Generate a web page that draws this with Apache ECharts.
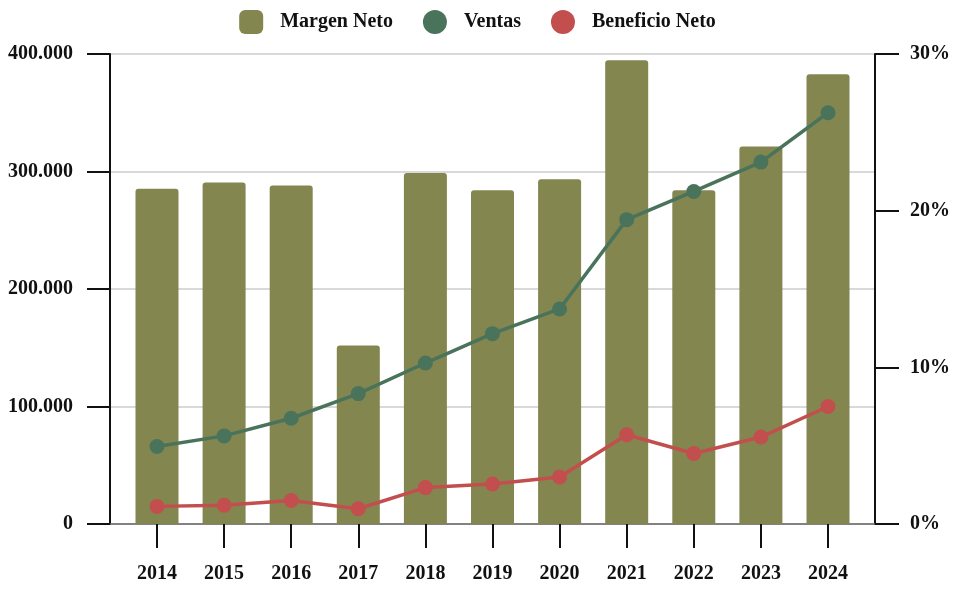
<!DOCTYPE html>
<html>
<head>
<meta charset="utf-8">
<script src="https://cdn.jsdelivr.net/npm/echarts@6/dist/echarts.min.js"></script>
<style>html,body{margin:0;padding:0;background:#fff}#c{width:955px;height:589px}</style>
</head>
<body>
<div id="c"></div>
<script>
var categories = ['2014','2015','2016','2017','2018','2019','2020','2021','2022','2023','2024'];
var margenNeto = [21.4, 21.8, 21.6, 11.4, 22.4, 21.3, 22.0, 29.6, 21.3, 24.1, 28.7];
var ventas = [66000, 75000, 90000, 111000, 137000, 162000, 183000, 259000, 283000, 308000, 350000];
var beneficioNeto = [15000, 16000, 20000, 13000, 31000, 34000, 40000, 76000, 60000, 74000, 100000];

var FONT = 'Liberation Serif';
var txt = {fontFamily: FONT, fontWeight: 'bold', fontSize: 20, color: '#111'};
function fmtThousands(v){ return String(v).replace(/\B(?=(\d{3})+(?!\d))/g, '.'); }

var chart = echarts.init(document.getElementById('c'), null, {renderer: 'canvas'});
chart.setOption({
  animation: false,
  backgroundColor: '#fff',
  legend: {
    top: 5, left: 'center',
    itemWidth: 24, itemHeight: 24, itemGap: 30,
    textStyle: Object.assign({}, txt, {fontSize: 20, padding: [2,0,0,12]}),
    data: [
      {name: 'Margen Neto', icon: 'roundRect'},
      {name: 'Ventas', icon: 'circle'},
      {name: 'Beneficio Neto', icon: 'circle'}
    ]
  },
  grid: [
    {left: 110, right: 80, top: 54, bottom: 65, containLabel: false},
    {left: 123.45, right: 93.45, top: 54, bottom: 65, containLabel: false}
  ],
  xAxis: [
    {type: 'category', gridIndex: 0, data: categories,
     axisLine: {show: true, lineStyle: {color: '#666', width: 1.5}},
     axisTick: {show: false}, axisLabel: {show: false}, splitLine: {show: false}},
    {type: 'category', gridIndex: 1, data: categories,
     axisLine: {show: false},
     axisTick: {show: true, alignWithLabel: true, length: 24, lineStyle: {color: '#111', width: 2}},
     axisLabel: Object.assign({}, txt, {margin: 40}), splitLine: {show: false}}
  ],
  yAxis: [
    {type: 'value', gridIndex: 0, position: 'left', min: 0, max: 400000, interval: 100000,
     axisLine: {show: true, lineStyle: {color: '#111', width: 2}},
     axisTick: {show: true, length: 23, lineStyle: {color: '#111', width: 2}},
     axisLabel: Object.assign({}, txt, {margin: 37, padding: [7,0,0,0], formatter: function(v){return fmtThousands(v);}}),
     splitLine: {show: true, lineStyle: {color: '#cccccc', width: 1.5}}},
    {type: 'value', gridIndex: 0, position: 'right', min: 0, max: 30, interval: 10,
     axisLine: {show: true, lineStyle: {color: '#111', width: 2}},
     axisTick: {show: true, length: 24, lineStyle: {color: '#111', width: 2}},
     axisLabel: Object.assign({}, txt, {margin: 35, padding: [7,0,0,0], formatter: '{value}%'}),
     splitLine: {show: false}},
    {type: 'value', gridIndex: 1, position: 'left', min: 0, max: 400000, interval: 100000, show: false,
     splitLine: {show: false}},
    {type: 'value', gridIndex: 1, position: 'right', min: 0, max: 30, interval: 10, show: false,
     splitLine: {show: false}}
  ],
  series: [
    {name: 'Margen Neto', type: 'bar', xAxisIndex: 1, yAxisIndex: 3, data: margenNeto,
     barWidth: 43, itemStyle: {color: '#848650', borderRadius: [3,3,0,0]}, z: 2},
    {name: 'Ventas', type: 'line', xAxisIndex: 1, yAxisIndex: 2, data: ventas,
     symbol: 'circle', symbolSize: 15, lineStyle: {color: '#4a735c', width: 3.5},
     itemStyle: {color: '#4a735c'}, z: 3},
    {name: 'Beneficio Neto', type: 'line', xAxisIndex: 1, yAxisIndex: 2, data: beneficioNeto,
     symbol: 'circle', symbolSize: 15, lineStyle: {color: '#c24f4e', width: 3.5},
     itemStyle: {color: '#c24f4e'}, z: 4}
  ]
});
</script>
</body>
</html>
